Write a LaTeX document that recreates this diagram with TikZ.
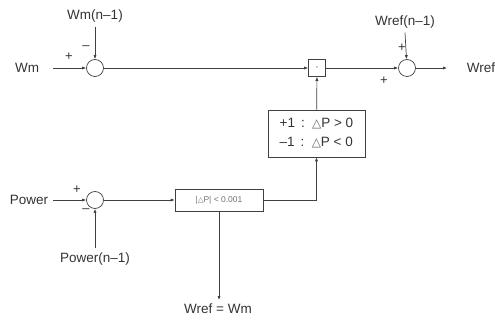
\documentclass[tikz,border=0pt]{standalone}
\usepackage{fontspec}
\setmainfont{Liberation Sans}
\newfontfamily\symfont{DejaVu Sans}
\usetikzlibrary{arrows.meta}
\begin{document}
\begin{tikzpicture}[
    x=1pt, y=-1pt,
    sumnode/.style={circle, draw, minimum size=17pt, inner sep=0pt},
    blockbox/.style={rectangle, draw, inner sep=0pt},
    lbl/.style={font=\fontsize{13.5}{15}\selectfont, text=black!80, inner sep=0pt},
    sgn/.style={font=\fontsize{13}{13}\selectfont, text=black!80, inner sep=0pt},
    >={Latex[length=4pt,width=3.2pt]}, draw=black!75, line width=0.7pt
  ]
  \useasboundingbox (0,0) rectangle (495,320);
  % upper loop
  \node[lbl] (wm) at (27,68) {Wm};
  \node[sumnode] (s1) at (95,68) {};
  \node[lbl] (wmold) at (95,16) {Wm(n–1)};
  \node[blockbox, minimum size=17pt] (mul) at (317,68) {\fontsize{6}{6}\selectfont\color{black!50}*};
  \node[sumnode] (s2) at (407,68) {};
  \node[lbl] (wrefold) at (405,22) {Wref(n–1)};
  \node[lbl] (wref) at (481,68) {Wref};
  \coordinate (wmin) at (53,68);
  \coordinate (wrefout) at (447,68);
  % sign block
  \node[blockbox, minimum width=97pt, minimum height=47pt, align=left,
        font=\fontsize{13.5}{19}\selectfont, text=black!80] (sign) at (316.5,133.5)
        {+1 \,:\, {\symfont\color{black!60}\fontsize{12}{19}\selectfont △}P > 0\\–1 \,:\, {\symfont\color{black!60}\fontsize{12}{19}\selectfont △}P < 0};
  % lower loop
  \node[lbl] (pw) at (29,200) {Power};
  \node[sumnode] (s3) at (95,200) {};
  \node[lbl] (pwold) at (95,259) {Power(n–1)};
  \node[blockbox, minimum width=88pt, minimum height=22pt,
        font=\fontsize{8.5}{9}\selectfont, text=black!55] (thr) at (219,200)
        {|{\symfont\fontsize{7.5}{9}\selectfont △}P| < 0.001};
  \node[lbl] (eq) at (218,309) {Wref = Wm};
  \coordinate (pwin) at (53,200);
  \coordinate (eqin) at (219,300);
  % signs
  \node[sgn] at (69,57) {+};
  \node[sgn] at (86,48) {–};
  \node[sgn] at (402,48) {+};
  \node[sgn] at (384,81) {+};
  \node[sgn] at (77,190) {+};
  \node[sgn] at (86,211) {–};
  % connectors
  \draw[->] (wmin) -- (s1);
  \draw[->] (wmold.south) ++(0,4) -- (s1);
  \draw[->] (s1) -- (mul);
  \draw[->] (mul) -- (s2);
  \draw[->] (wrefold.south) ++(0,4) -- (s2);
  \draw[->] (s2) -- (wrefout);
  \draw[->] (sign) -- (mul);
  \draw[->] (pwin) -- (s3);
  \draw[->] (pwold.north) ++(0,-4) -- (s3);
  \draw[->] (s3) -- (thr);
  \draw[->] (thr.east) -| (sign.south);
  \draw[->] (thr) -- (eqin);
\end{tikzpicture}
\end{document}
